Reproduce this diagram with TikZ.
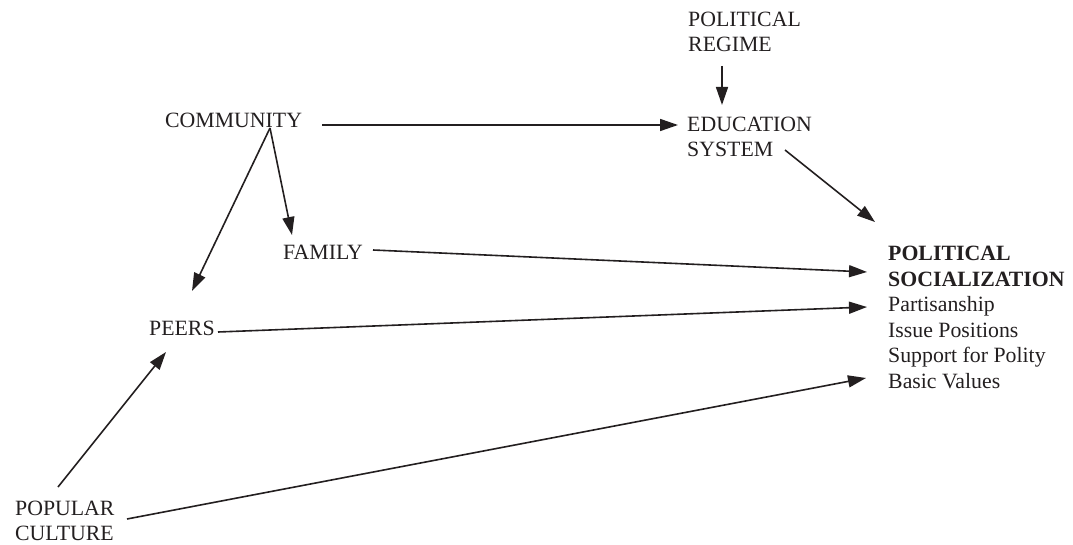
\documentclass[tikz,border=0pt]{standalone}
\usepackage{fontspec}
\setmainfont{Liberation Serif}
\usetikzlibrary{arrows.meta}
\definecolor{ink}{HTML}{231F20}
\begin{document}
\begin{tikzpicture}[x=1pt,y=-1pt,
  lbl/.style={inner sep=0pt, anchor=base west, align=left, text=ink,
    font=\fontsize{21.8}{25}\selectfont},
  arr/.style={draw=ink, line width=1.6pt, -{Triangle[length=18pt,width=12pt]}}]
\useasboundingbox (0,0) rectangle (1073,545);

% multi-line nodes: base anchor = baseline of last line
\node[lbl] (reg)   at (688,52)  {POLITICAL\\REGIME};
\node[lbl] (edu)   at (687,157) {EDUCATION\\SYSTEM};
\node[lbl] (comm)  at (165,128) {COMMUNITY};
\node[lbl] (fam)   at (283,260) {FAMILY};
\node[lbl] (peers) at (149,335) {PEERS};
\node[lbl] (pop)   at (15,540)  {POPULAR\\CULTURE};
\node[lbl, font=\fontsize{21.8}{25.5}\selectfont] (soc) at (888,388)
  {\textbf{POLITICAL}\\\textbf{SOCIALIZATION}\\Partisanship\\Issue Positions\\Support for Polity\\Basic Values};

\draw[arr] ([shift={(34,14)}]reg.base west) -- ([shift={(35,-52)}]edu.base west);
\draw[arr] ([shift={(157,-3)}]comm.base west) -- ([shift={(-9,-32)}]edu.base west);
\draw[arr] ([shift={(105,0)}]comm.base west) -- ([shift={(9,-25)}]fam.base west);
\draw[arr] ([shift={(105,0)}]comm.base west) -- ([shift={(43,-44)}]peers.base west);
\draw[arr] ([shift={(98,-7)}]edu.base west) -- ([shift={(-13,-166)}]soc.base west);
\draw[arr] ([shift={(90,-10)}]fam.base west) -- ([shift={(-21,-116)}]soc.base west);
\draw[arr] ([shift={(69,-3)}]peers.base west) -- ([shift={(-21,-81)}]soc.base west);
\draw[arr] ([shift={(112,-21)}]pop.base west) -- ([shift={(-22,-10)}]soc.base west);
\draw[arr] ([shift={(43,-53)}]pop.base west) -- ([shift={(17,17)}]peers.base west);
\end{tikzpicture}
\end{document}
